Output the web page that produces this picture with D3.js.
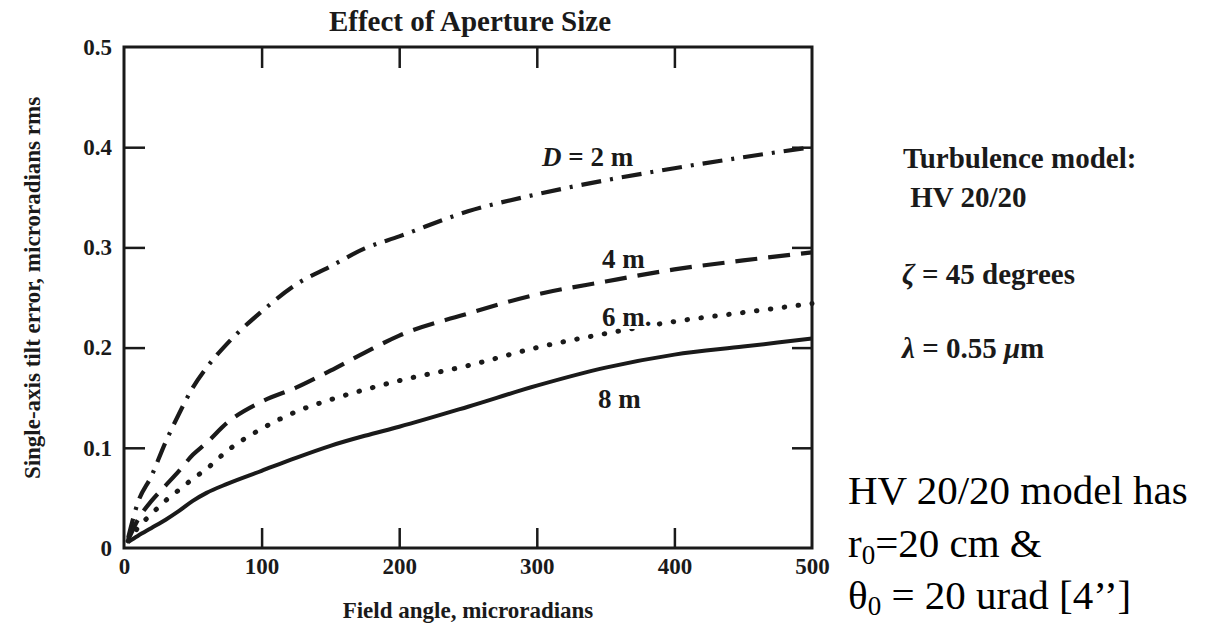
<!DOCTYPE html>
<html>
<head>
<meta charset="utf-8">
<script src="https://cdn.jsdelivr.net/npm/d3@7"></script>
<style>
  html, body { margin: 0; padding: 0; background: #fff; }
  svg { display: block; }
  text { font-family: "Liberation Serif", "Times New Roman", serif; }
</style>
</head>
<body>
<svg id="chart" width="1207" height="624"></svg>
<script>
// ---- data ----
const fieldAngle = [3, 10, 20, 30, 40, 50, 60, 75, 100, 125, 150, 175, 200, 250, 300, 350, 400, 450, 500];
const tilt2m = [0.010, 0.045, 0.072, 0.105, 0.134, 0.160, 0.180, 0.204, 0.236, 0.263, 0.281, 0.299, 0.311, 0.336, 0.353, 0.367, 0.379, 0.390, 0.400];
const tilt4m = [0.008, 0.028, 0.047, 0.062, 0.077, 0.093, 0.105, 0.125, 0.146, 0.160, 0.177, 0.195, 0.212, 0.234, 0.253, 0.266, 0.278, 0.287, 0.295];
const tilt6m = [0.007, 0.020, 0.034, 0.047, 0.058, 0.069, 0.079, 0.097, 0.119, 0.136, 0.148, 0.158, 0.167, 0.182, 0.200, 0.214, 0.226, 0.235, 0.244];
const tilt8m = [0.006, 0.012, 0.020, 0.028, 0.037, 0.047, 0.055, 0.064, 0.077, 0.090, 0.102, 0.112, 0.121, 0.141, 0.162, 0.180, 0.193, 0.201, 0.209];
const seriesNames = ["D = 2 m", "4 m", "6 m.", "8 m"];
const xTicks = [0, 100, 200, 300, 400, 500];
const yTicks = [0, 0.1, 0.2, 0.3, 0.4, 0.5];
const yTickLabels = ["0", "0.1", "0.2", "0.3", "0.4", "0.5"];
const chartTitle = "Effect of Aperture Size";
const xTitle = "Field angle, microradians";
const yTitle = "Single-axis tilt error, microradians rms";
const notes = ["Turbulence model:", " HV 20/20", "ζ = 45 degrees", "λ = 0.55 μm"];

// ---- drawing ----
const svg = d3.select("#chart");
const ink = "#1a1a1a";
const x = d3.scaleLinear().domain([0, 500]).range([124, 812]);
const y = d3.scaleLinear().domain([0, 0.5]).range([548, 47]);

// frame
svg.append("rect")
  .attr("x", x(0)).attr("y", y(0.5))
  .attr("width", x(500) - x(0)).attr("height", y(0) - y(0.5))
  .attr("fill", "none").attr("stroke", ink).attr("stroke-width", 3);

function styleAxis(g) {
  g.select(".domain").remove();
  g.selectAll(".tick line").attr("stroke", ink).attr("stroke-width", 2.5);
  g.selectAll(".tick text")
    .attr("fill", ink)
    .style("font-family", '"Liberation Serif", "Times New Roman", serif')
    .style("font-size", "23px").style("font-weight", "bold");
}

const fmtY = (d) => yTickLabels[yTicks.indexOf(d)];

svg.append("g").attr("transform", `translate(${x(0)},0)`)
  .call(d3.axisLeft(y).tickValues(yTicks.slice(1, 5)).tickSize(-21).tickPadding(12).tickFormat(fmtY))
  .call(styleAxis);
svg.append("g").attr("transform", `translate(${x(0)},0)`)
  .call(d3.axisLeft(y).tickValues([0, 0.5]).tickSize(0).tickPadding(12).tickFormat(fmtY))
  .call(styleAxis);
svg.append("g").attr("transform", `translate(${x(500)},0)`)
  .call(d3.axisRight(y).tickValues(yTicks.slice(1, 5)).tickSize(-20).tickFormat(""))
  .call(styleAxis);
svg.append("g").attr("transform", `translate(0,${y(0)})`)
  .call(d3.axisBottom(x).tickValues(xTicks).tickSize(0).tickPadding(10).tickFormat(d3.format("d")))
  .call(styleAxis);
svg.append("g").attr("transform", `translate(0,${y(0)})`)
  .call(d3.axisBottom(x).tickValues(xTicks.slice(1, 5)).tickSize(-20).tickFormat(""))
  .call(styleAxis);
svg.append("g").attr("transform", `translate(0,${y(0.5)})`)
  .call(d3.axisTop(x).tickValues(xTicks.slice(1, 5)).tickSize(-21).tickFormat(""))
  .call(styleAxis);

// curves
const line = d3.line().x((d) => x(d[0])).y((d) => y(d[1])).curve(d3.curveMonotoneX);
const series = [
  { vals: tilt2m, dash: "20 9 3 9", cap: "butt", w: 4.2 },
  { vals: tilt4m, dash: "22 11", cap: "butt", w: 4.2 },
  { vals: tilt6m, dash: "0.5 13.5", cap: "round", w: 5 },
  { vals: tilt8m, dash: null, cap: "butt", w: 4 }
];
series.forEach((s) => {
  svg.append("path")
    .datum(fieldAngle.map((a, i) => [a, s.vals[i]]))
    .attr("d", line)
    .attr("fill", "none")
    .attr("stroke", ink)
    .attr("stroke-width", s.w)
    .attr("stroke-linecap", s.cap)
    .attr("stroke-dasharray", s.dash);
});

// curve labels (white halo so the curve breaks behind the text, as in the reference)
const lab = svg.append("g").attr("fill", ink).style("font-size", "27px").style("font-weight", "bold");
const t0 = lab.append("text").attr("x", 542).attr("y", 166);
t0.append("tspan").style("font-style", "italic").text("D");
t0.append("tspan").text(seriesNames[0].slice(1));
lab.append("text").attr("x", 602).attr("y", 268).text(seriesNames[1]);
lab.append("text").attr("x", 602).attr("y", 326)
  .attr("stroke", "#fff").attr("stroke-width", 6).attr("paint-order", "stroke")
  .text(seriesNames[2]);
lab.append("text").attr("x", 598).attr("y", 408).text(seriesNames[3]);

// title and axis titles
svg.append("text").attr("x", 470).attr("y", 31).attr("text-anchor", "middle")
  .attr("fill", ink).style("font-size", "29px").style("font-weight", "bold").text(chartTitle);
svg.append("text").attr("x", (x(0) + x(500)) / 2).attr("y", 618).attr("text-anchor", "middle")
  .attr("fill", ink).style("font-size", "23px").style("font-weight", "bold").text(xTitle);
svg.append("text").attr("transform", "translate(40,288) rotate(-90)").attr("text-anchor", "middle")
  .attr("fill", ink).style("font-size", "23px").style("font-weight", "bold").text(yTitle);

// right-hand notes
const nt = svg.append("g").attr("fill", ink).style("font-size", "29px").style("font-weight", "bold");
nt.append("text").attr("x", 903).attr("y", 168).text(notes[0]);
nt.append("text").attr("x", 903).attr("y", 207).attr("xml:space", "preserve").style("white-space", "pre").text(notes[1]);
const z = nt.append("text").attr("x", 902).attr("y", 284);
z.append("tspan").style("font-style", "italic").text("ζ");
z.append("tspan").text(notes[2].slice(1));
const l = nt.append("text").attr("x", 902).attr("y", 358);
l.append("tspan").style("font-style", "italic").text("λ");
l.append("tspan").text(" = 0.55 ");
l.append("tspan").style("font-style", "italic").text("μ");
l.append("tspan").text("m");

// big explanatory text
const big = svg.append("g").attr("fill", "#000").style("font-size", "41px");
big.append("text").attr("x", 848).attr("y", 504).text("HV 20/20 model has");
const r = big.append("text").attr("x", 848).attr("y", 557);
r.append("tspan").text("r");
r.append("tspan").attr("dy", 7).style("font-size", "27px").text("0");
r.append("tspan").attr("dy", -7).text("=20 cm &");
const th = big.append("text").attr("x", 848).attr("y", 609);
th.append("tspan").text("θ");
th.append("tspan").attr("dy", 6).style("font-size", "27px").text("0");
th.append("tspan").attr("dy", -6).text(" = 20 urad [4’’]");
</script>
</body>
</html>
